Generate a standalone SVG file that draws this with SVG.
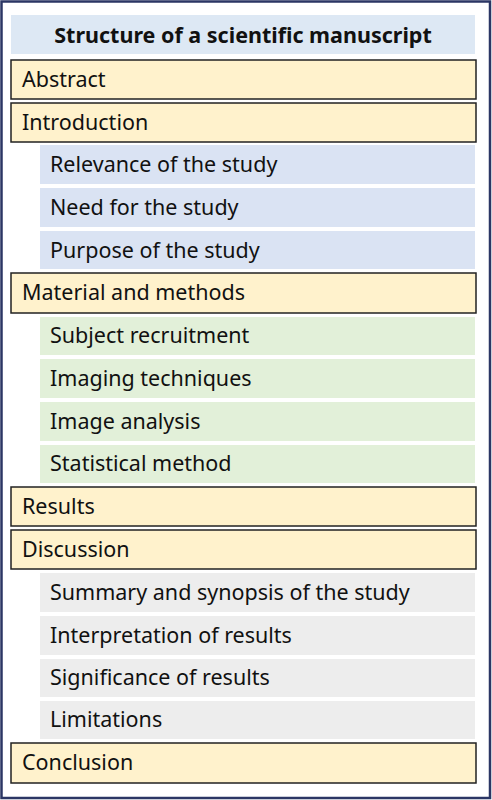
<svg xmlns="http://www.w3.org/2000/svg" width="492" height="800" viewBox="0 0 492 800">
<style>
.t{font-family:"Noto Sans","Liberation Sans",sans-serif;font-size:21.5px;fill:#111}
.h{font-family:"Noto Sans","Liberation Sans",sans-serif;font-size:21.5px;font-weight:bold;fill:#111}
.main{fill:#fff2cc;stroke:#222;stroke-width:1.5}
.blue{fill:#dae3f3}
.green{fill:#e2f0d9}
.gray{fill:#ededed}
</style>
<rect x="0" y="0" width="492" height="800" fill="#fff"/>
<rect x="1.5" y="1.5" width="488.5" height="796.5" fill="#fff" stroke="#2b3664" stroke-width="2.5"/>
<g id="title"><rect x="11" y="15" width="464" height="39" fill="#dde8f4"/><text class="h" x="243" y="43" text-anchor="middle">Structure of a scientific manuscript</text></g>
<g id="abstract"><rect class="main" x="11" y="60" width="465" height="39"/><text class="t" x="22" y="87">Abstract</text></g>
<g id="introduction"><rect class="main" x="11" y="103" width="465" height="39"/><text class="t" x="22" y="130">Introduction</text></g>
<g id="relevance"><rect class="blue" x="40" y="145" width="435" height="39"/><text class="t" x="50" y="172">Relevance of the study</text></g>
<g id="need"><rect class="blue" x="40" y="188" width="435" height="39"/><text class="t" x="50" y="215">Need for the study</text></g>
<g id="purpose"><rect class="blue" x="40" y="231" width="435" height="38"/><text class="t" x="50" y="258">Purpose of the study</text></g>
<g id="methods"><rect class="main" x="11" y="273" width="465" height="40"/><text class="t" x="22" y="300">Material and methods</text></g>
<g id="subject"><rect class="green" x="40" y="317" width="435" height="38"/><text class="t" x="50" y="343">Subject recruitment</text></g>
<g id="imaging"><rect class="green" x="40" y="359" width="435" height="39"/><text class="t" x="50" y="386">Imaging techniques</text></g>
<g id="analysis"><rect class="green" x="40" y="402" width="435" height="39"/><text class="t" x="50" y="429">Image analysis</text></g>
<g id="statistical"><rect class="green" x="40" y="445" width="435" height="38"/><text class="t" x="50" y="471">Statistical method</text></g>
<g id="results"><rect class="main" x="11" y="487" width="465" height="39"/><text class="t" x="22" y="514">Results</text></g>
<g id="discussion"><rect class="main" x="11" y="530" width="465" height="39"/><text class="t" x="22" y="557">Discussion</text></g>
<g id="summary"><rect class="gray" x="40" y="573" width="435" height="39"/><text class="t" x="50" y="600">Summary and synopsis of the study</text></g>
<g id="interpretation"><rect class="gray" x="40" y="616" width="435" height="39"/><text class="t" x="50" y="643">Interpretation of results</text></g>
<g id="significance"><rect class="gray" x="40" y="659" width="435" height="38"/><text class="t" x="50" y="685">Significance of results</text></g>
<g id="limitations"><rect class="gray" x="40" y="701" width="435" height="38"/><text class="t" x="50" y="727">Limitations</text></g>
<g id="conclusion"><rect class="main" x="11" y="743" width="465" height="40"/><text class="t" x="22" y="770">Conclusion</text></g>
<g id="connectors"></g>
</svg>
